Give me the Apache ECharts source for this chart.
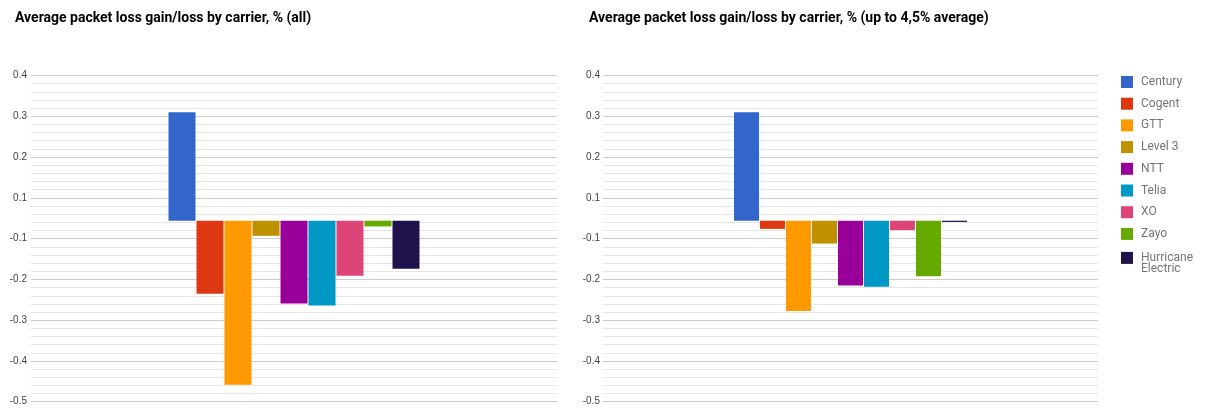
<!DOCTYPE html>
<html>
<head>
<meta charset="utf-8">
<script src="https://cdn.jsdelivr.net/npm/echarts@6/dist/echarts.min.js"></script>
<style>
  html, body { margin: 0; padding: 0; background: #fff; }
</style>
</head>
<body>
<div id="chart" style="width: 1205px; height: 408px"></div>
<script>
// carriers, one bar each
const carriers = ["Century", "Cogent", "GTT", "Level 3", "NTT", "Telia", "XO", "Zayo", "Hurricane Electric"];
const colors = ["#3366cc", "#dc3912", "#ff9900", "#bf9000", "#990099", "#0099c6", "#dd4477", "#66aa00", "#20124d"];
// average packet loss gain/loss, %
const allValues = [0.266, -0.179, -0.402, -0.037, -0.203, -0.208, -0.135, -0.014, -0.118];
const upTo45Values = [0.266, -0.020, -0.221, -0.056, -0.159, -0.162, -0.023, -0.136, -0.003];
const titles = [
  "Average packet loss gain/loss by carrier, % (all)",
  "Average packet loss gain/loss by carrier, % (up to 4,5% average)",
];

// the original axis labels are rounded away from zero
function tickLabel(v) {
  const s = Math.sign(v) * Math.ceil(Math.abs(v) * 10 - 1e-6) / 10;
  return s.toFixed(1);
}

function yAxis(gridIndex, margin) {
  return {
    type: "value",
    gridIndex: gridIndex,
    min: -0.4436,
    max: 0.3564,
    interval: 0.1,
    axisLine: { show: false },
    axisTick: { show: false },
    axisLabel: { color: "#444", fontSize: 10, margin: margin, formatter: tickLabel },
    splitLine: { lineStyle: { color: "#cccccc", width: 1 } },
    minorTick: { show: false, splitNumber: 5 },
    minorSplitLine: { show: true, lineStyle: { color: "#e6e6e6", width: 1 } },
  };
}

function xAxis(gridIndex) {
  return {
    type: "category",
    gridIndex: gridIndex,
    data: [""],
    show: false,
  };
}

const series = [];
[allValues, upTo45Values].forEach((vals, g) => {
  carriers.forEach((name, i) => {
    series.push({
      name: name,
      type: "bar",
      xAxisIndex: g,
      yAxisIndex: g,
      data: [vals[i]],
      barWidth: g === 0 ? 27 : 25,
      barGap: g === 0 ? "3.7%" : "4%",
      itemStyle: { color: colors[i] },
      emphasis: { disabled: true },
    });
  });
});

const legendText = { fontFamily: "Roboto", fontSize: 12, color: "#757575", lineHeight: 11.5, padding: [0, 0, 0, 3] };
const legendBase = {
  orient: "vertical",
  left: 1121,
  padding: 0,
  itemWidth: 12,
  itemHeight: 12,
  itemGap: 9.7,
  icon: "rect",
};

const myChart = echarts.init(document.getElementById("chart"));
const option = {
  animation: false,
  color: colors,
  title: [
    { text: titles[0], left: 15, top: 11, padding: 0,
      textStyle: { fontFamily: "Roboto", fontSize: 14, fontWeight: "bold", color: "#000" } },
    { text: titles[1], left: 589, top: 11, padding: 0,
      textStyle: { fontFamily: "Roboto", fontSize: 14, fontWeight: "bold", color: "#000" } },
  ],
  legend: [
    Object.assign({}, legendBase, {
      top: 76,
      data: carriers.slice(0, 8),
      textStyle: legendText,
    }),
    // the long name wraps; an empty first line keeps "Hurricane" level with the swatch
    Object.assign({}, legendBase, {
      top: 240.4,
      data: carriers.slice(8),
      formatter: (name) => "\n" + name.replace(" ", "\n"),
      textStyle: legendText,
    }),
  ],
  grid: [
    { left: 31, top: 75.3, width: 526, height: 326.4 },
    { left: 603, top: 75.3, width: 495, height: 326.4 },
  ],
  xAxis: [xAxis(0), xAxis(1)],
  yAxis: [yAxis(0, 4), yAxis(1, 3)],
  series: series,
};
myChart.setOption(option);
</script>
</body>
</html>
